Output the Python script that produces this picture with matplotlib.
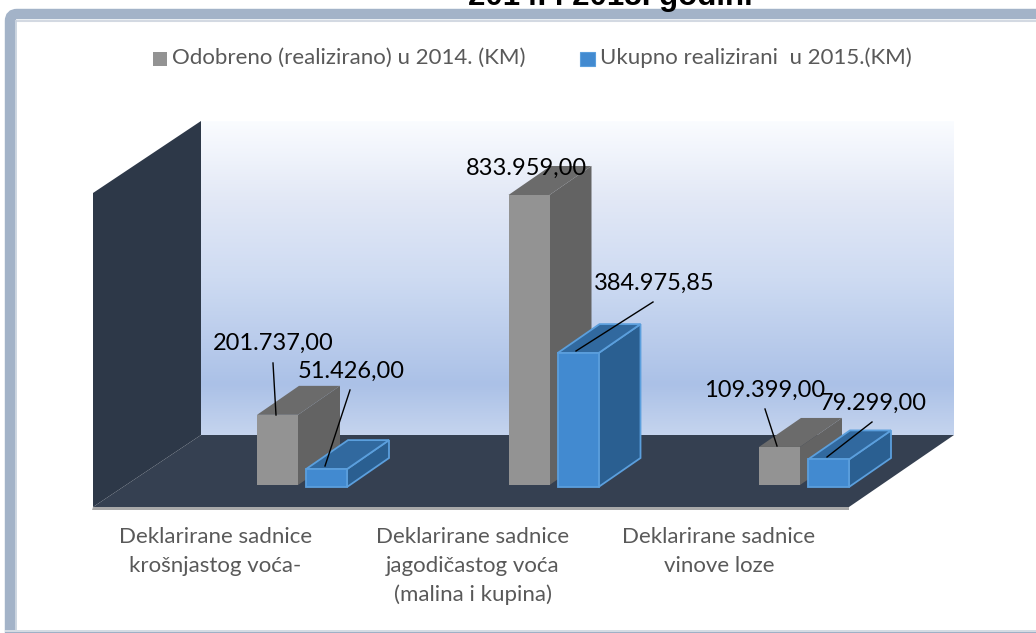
import matplotlib
matplotlib.use('Agg')
import matplotlib.pyplot as plt
import numpy as np
from matplotlib.patches import Polygon, Rectangle, FancyBboxPatch

categories = ['Deklarirane sadnice\nkrošnjastog voća-',
              'Deklarirane sadnice\njagodičastog voća\n(malina i kupina)',
              'Deklarirane sadnice\nvinove loze']
series_2014 = [201737.00, 833959.00, 109399.00]
series_2015 = [51426.00, 384975.85, 79299.00]
labels_2014 = ['201.737,00', '833.959,00', '109.399,00']
labels_2015 = ['51.426,00', '384.975,85', '79.299,00']
legend_2014 = 'Odobreno (realizirano) u 2014. (KM)'
legend_2015 = 'Ukupno realizirani  u 2015.(KM)'
title = '2014. i 2015. godini'

plt.rcParams['font.family'] = ['Lato', 'DejaVu Sans']

fig = plt.figure(figsize=(10.36, 6.33), dpi=100)
ax = fig.add_axes([0, 0, 1, 1])
ax.set_xlim(0, 1036)
ax.set_ylim(633, 0)
ax.axis('off')

# frame round the chart, its right and bottom sides run off the picture
ax.add_patch(FancyBboxPatch((10, 14), 1060, 640, boxstyle='round,pad=0,rounding_size=7',
                            fc='white', ec='#a3b3c8', lw=7.5, zorder=1))
ax.plot([16, 1036], [20.5, 20.5], color='#d3d9e2', lw=1.5, zorder=1.1)
ax.plot([15.5, 15.5], [21, 630], color='#c5cfdc', lw=1.2, zorder=1.1)
ax.add_patch(Rectangle((5, 630), 1031, 2, fc='#d5dbe3', ec='none', zorder=1.2))
ax.add_patch(Rectangle((5, 632), 1031, 1, fc='#9fb0c6', ec='none', zorder=1.2))

ax.text(610, 4.5, title, ha='center', va='baseline', fontsize=22.5, fontweight='bold',
        family='Liberation Sans', color='black', zorder=5)

# back wall gradient
stops_y = [0, 0.25, 0.5, 0.84, 1]
stops_c = np.array([[250, 252, 255], [226, 232, 246], [206, 219, 242], [171, 193, 231], [197, 212, 238]]) / 255
t = np.linspace(0, 1, 256)
grad = np.stack([np.interp(t, stops_y, stops_c[:, k]) for k in range(3)], axis=1)[:, None, :]
ax.imshow(grad, extent=(201, 954, 435, 121), aspect='auto', zorder=2)
ax.set_xlim(0, 1036)
ax.set_ylim(633, 0)

# left wall, floor and the strip below it
ax.add_patch(Polygon([(93, 193), (201, 121), (201, 435), (93, 507)], fc='#2d3848', ec='none', zorder=3))
ax.add_patch(Polygon([(201, 435), (954, 435), (849, 507), (93, 507)], fc='#354051', ec='none', zorder=3))
ax.add_patch(Polygon([(93, 507), (849, 507), (849, 510), (92, 510)], fc='#a9a9a9', ec='none', zorder=3))

# bars
scale = 290 / 833959.0
dx, dy = 42, -29
bar_w = 41
centers = [302, 553.5, 804]


def box(x0, base, value, front, side, top, edge, z):
    h = value * scale
    y1 = base - h
    lw = 1.3 if edge != 'none' else 0
    ax.add_patch(Polygon([(x0 + bar_w, y1), (x0 + bar_w + dx, y1 + dy), (x0 + bar_w + dx, base + dy),
                          (x0 + bar_w, base)], fc=side, ec=edge, lw=lw, zorder=z))
    ax.add_patch(Polygon([(x0, y1), (x0 + dx, y1 + dy), (x0 + bar_w + dx, y1 + dy), (x0 + bar_w, y1)],
                         fc=top, ec=edge, lw=lw, zorder=z))
    ax.add_patch(Rectangle((x0, y1), bar_w, h, fc=front, ec=edge, lw=lw, zorder=z + 0.1))


for i in range(3):
    box(centers[i] - 45, 485, series_2014[i], '#939393', '#636363', '#6b6b6b', 'none', 4)
    box(centers[i] + 4, 487, series_2015[i], '#428ad0', '#2a5f91', '#31699f', '#5b9fdd', 4.5)

# data labels and leader lines
label_pos_2014 = [(273, 343), (526, 168), (765, 390)]
label_pos_2015 = [(351, 371), (654, 283), (873, 403)]
leaders_2014 = [((273, 363), (276, 415)), None, ((765, 409), (777, 446))]
leaders_2015 = [((350, 390), (325, 466)), ((653, 302), (576, 351)), ((872, 422), (827, 457))]
for i in range(3):
    ax.text(*label_pos_2014[i], labels_2014[i], ha='center', va='center', fontsize=17, color='black', zorder=6)
    ax.text(*label_pos_2015[i], labels_2015[i], ha='center', va='center', fontsize=17, color='black', zorder=6)
    for seg in (leaders_2014[i], leaders_2015[i]):
        if seg is not None:
            ax.plot([seg[0][0], seg[1][0]], [seg[0][1], seg[1][1]], color='black', lw=1, zorder=5.5)

# category labels
cat_x = [215.5, 473, 719]
for i in range(3):
    for j, line in enumerate(categories[i].split('\n')):
        ax.text(cat_x[i], 537 + j * 29, line, ha='center', va='center', fontsize=16, color='#595959', zorder=6)

# legend
ax.add_patch(Rectangle((153, 52), 14, 14, fc='#939393', ec='none', zorder=6))
ax.text(172, 58, legend_2014, ha='left', va='center', fontsize=16, color='#595959', zorder=6)
ax.add_patch(Rectangle((580, 52), 15, 14, fc='#428ad0', ec='#5b9fdd', lw=0.8, zorder=6))
ax.text(600, 58, legend_2015, ha='left', va='center', fontsize=16, color='#595959', zorder=6)

fig.savefig('out.png', dpi=100)
